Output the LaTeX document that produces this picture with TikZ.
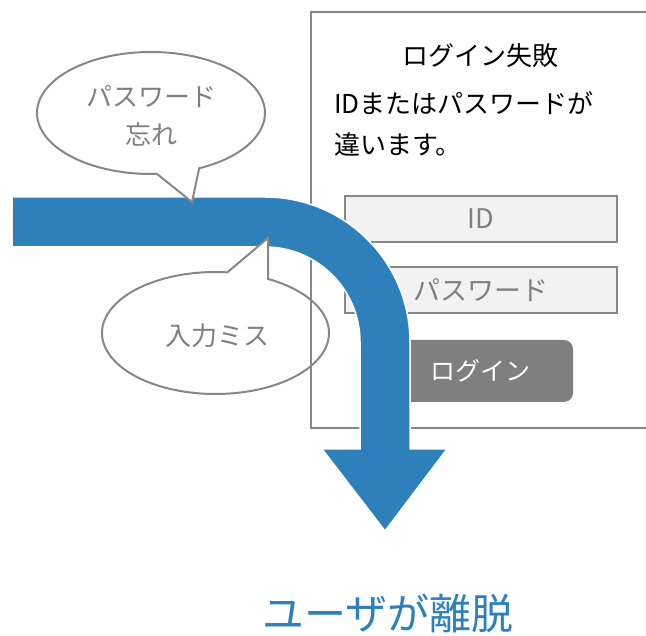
\documentclass[tikz,border=0pt]{standalone}
\usepackage{fontspec}
\setmainfont{Noto Sans CJK JP}
\definecolor{flowblue}{RGB}{46,128,186}
\definecolor{linegray}{RGB}{135,135,135}
\definecolor{txtgray}{RGB}{127,127,127}
\definecolor{boxfill}{RGB}{242,242,242}
\definecolor{btnfill}{RGB}{127,127,127}
\tikzset{
  panelline/.style={draw=linegray,line width=2pt},
  inputbox/.style={draw=linegray,line width=2pt,fill=boxfill,minimum width=272pt,minimum height=46pt,inner sep=0pt,text=txtgray,font=\fontsize{27}{30}\selectfont},
  loginbtn/.style={fill=btnfill,rounded corners=9pt,minimum width=186pt,minimum height=62pt,inner sep=0pt,text=white,font=\fontsize{25}{30}\selectfont},
  bubble/.style={draw=linegray,line width=2pt,fill=white,line join=miter},
  bubbletext/.style={text=txtgray,align=center,inner sep=0pt,font=\fontsize{26}{38}\selectfont},
  flow/.style={fill=flowblue,draw=white,line width=1.5pt,line join=miter},
}
\begin{document}
\begin{tikzpicture}[x=1pt,y=-1pt]
\useasboundingbox (0,0) rectangle (646,636);
% login panel
\draw[panelline] (652,12) -- (311,12) -- (311,428) -- (652,428);
\node[font=\fontsize{26}{30}\selectfont,inner sep=0pt] (title) at (480,56) {ログイン失敗};
\node[font=\fontsize{26}{41}\selectfont,align=left,inner sep=0pt,anchor=west] (msg) at (334,124) {IDまたはパスワードが\\違います。};
\node[inputbox] (idbox) at (481,219) {ID};
\node[inputbox] (pwbox) at (481,290) {パスワード};
\node[loginbtn] (btn) at (480,371) {ログイン};
% flow arrow
\path[flow] (12,197) -- (265,197) arc[start angle=-90,end angle=0,radius=145]
  -- (410,449) -- (447,449) -- (385,531) -- (322,449) -- (360,449) -- (360,342)
  arc[start angle=0,end angle=-90,radius=95] -- (12,247) -- cycle;
% bubbles
\draw[bubble] (151,113) ++(87:114 and 61) arc[start angle=87,end angle=425,x radius=114,y radius=61] -- (192,202) -- cycle;
\node[bubbletext] (b1) at (151,116) {パスワード\\忘れ};
\draw[bubble] (215.5,333) ++(-62.4:113.5 and 61) arc[start angle=-62.4,end angle=276,x radius=113.5,y radius=61] -- (268,238) -- cycle;
\node[bubbletext] (b2) at (217,336) {入力ミス};
% panel edge seen through the lower bubble
\draw[panelline] (311,261) -- (311,428);
% result
\node[text=flowblue,font=\fontsize{42}{46}\selectfont,inner sep=0pt] (result) at (388,613) {ユーザが離脱};
\end{tikzpicture}
\end{document}
